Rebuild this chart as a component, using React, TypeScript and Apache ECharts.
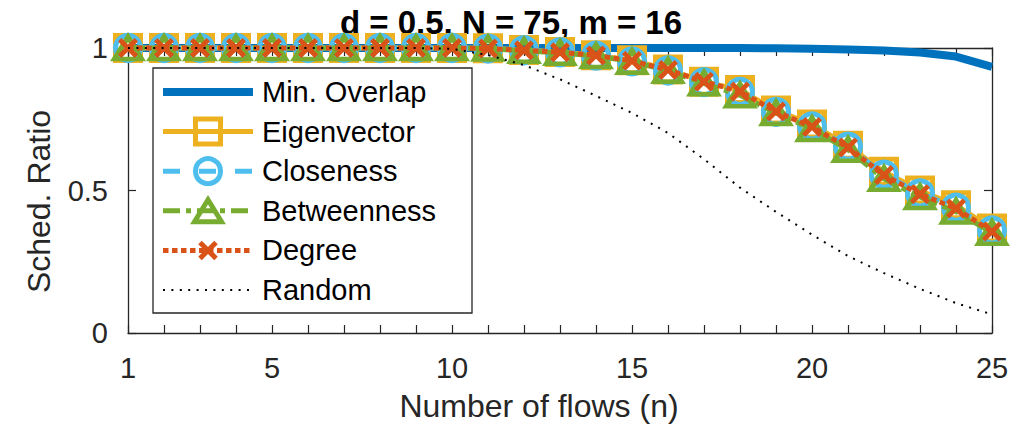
import { useEffect, useRef } from "react";
import * as echarts from "echarts";

const flows = [1, 2, 3, 4, 5, 6, 7, 8, 9, 10, 11, 12, 13, 14, 15, 16, 17, 18, 19, 20, 21, 22, 23, 24, 25];
const xTickLabels = [1, 5, 10, 15, 20, 25];
const titleText = "d = 0.5, N = 75, m = 16";
const xTitle = "Number of flows (n)";
const yTitle = "Sched. Ratio";
const seriesNames = ["Min. Overlap", "Eigenvector", "Closeness", "Betweenness", "Degree", "Random"];

const minOverlap = [1, 1, 1, 1, 1, 1, 1, 1, 1, 1, 1, 1, 1, 1, 1, 1, 1, 1, 0.999, 0.997, 0.995, 0.991, 0.984, 0.97, 0.934];
const eigenvector = [1, 1, 1, 1, 1, 1, 1, 1, 1, 1, 0.999, 0.993, 0.986, 0.975, 0.957, 0.925, 0.882, 0.853, 0.781, 0.732, 0.657, 0.566, 0.5, 0.448, 0.367];
const closeness = [1, 1, 1, 1, 1, 1, 1, 1, 1, 1, 0.998, 0.992, 0.985, 0.973, 0.953, 0.921, 0.88, 0.846, 0.776, 0.725, 0.654, 0.556, 0.49, 0.44, 0.36];
const betweenness = [1, 1, 1, 1, 1, 1, 1, 1, 1, 1, 0.998, 0.99, 0.983, 0.972, 0.952, 0.92, 0.876, 0.834, 0.772, 0.716, 0.643, 0.541, 0.477, 0.426, 0.352];
const degree = [1, 1, 1, 1, 1, 1, 1, 1, 1, 1, 0.998, 0.992, 0.985, 0.974, 0.955, 0.923, 0.882, 0.847, 0.777, 0.723, 0.651, 0.554, 0.487, 0.437, 0.356];
const random = [1, 1, 1, 1, 1, 1, 1, 1, 1, 0.997, 0.975, 0.94, 0.89, 0.832, 0.772, 0.702, 0.61, 0.51, 0.425, 0.345, 0.27, 0.21, 0.155, 0.105, 0.065];

const FONT = "'Liberation Sans', Arial, Helvetica, sans-serif";
const AX = "#262626";
const C_BLUE = "#0072BD";
const C_ORANGE = "#EDB120";
const C_CYAN = "#4DBEEE";
const C_GREEN = "#77AC30";
const C_RED = "#D95319";
const X_PATH = "path://M0,1.7L1.7,0L5,3.3L8.3,0L10,1.7L6.7,5L10,8.3L8.3,10L5,6.7L1.7,10L0,8.3L3.3,5Z";

const pairs = (vals: number[]) => flows.map((n, i) => [n, vals[i]]);

export default function App() {
  const ref = useRef<HTMLDivElement>(null);
  useEffect(() => {
    const chart = echarts.init(ref.current!, null, { renderer: "svg" });
    const axisLine = { show: true, onZero: false, lineStyle: { color: AX, width: 1.3 } };
    const axisTick = { show: true, inside: true, length: 8, lineStyle: { color: AX, width: 1.2 } };

    const lineStyles: any[] = [
      { color: C_BLUE, width: 8, type: "solid" },
      { color: C_ORANGE, width: 5, type: "solid" },
      { color: C_CYAN, width: 5, type: [17, 19] },
      { color: C_GREEN, width: 5, type: [17, 6, 5, 6] },
      { color: C_RED, width: 5, type: [5.5, 3.5] },
      { color: "#000", width: 2, type: [2, 6.4] },
    ];
    const dataSets = [minOverlap, eigenvector, closeness, betweenness, degree, random];
    const symbols: any[] = ["none", "rect", "circle", "triangle", X_PATH, "none"];
    const symbolSizes: any[] = [0, 25, 25, [27, 22], 20, 0];
    const itemStyles: any[] = [
      { color: C_BLUE },
      { color: "rgba(0,0,0,0)", borderColor: C_ORANGE, borderWidth: 5 },
      { color: "rgba(0,0,0,0)", borderColor: C_CYAN, borderWidth: 5 },
      { color: "rgba(0,0,0,0)", borderColor: C_GREEN, borderWidth: 5 },
      { color: C_RED, borderWidth: 0 },
      { color: "#000" },
    ];

    const series = seriesNames.map((name, i) => ({
      name,
      type: "line",
      data: pairs(dataSets[i]),
      symbol: symbols[i],
      symbolSize: symbolSizes[i],
      showSymbol: symbols[i] !== "none",
      showAllSymbol: true,
      itemStyle: itemStyles[i],
      lineStyle: lineStyles[i],
      clip: false,
      silent: true,
      z: 2 + i,
      emphasis: { disabled: true },
    }));

    // legend graphic
    const legendEls: any[] = [
      {
        type: "rect",
        z: 50,
        shape: { x: 153, y: 68, width: 319, height: 245 },
        style: { fill: "#fff", stroke: AX, lineWidth: 1.3 },
      },
    ];
    seriesNames.forEach((name, i) => {
      const y = 92 + i * 39.6;
      const ls = lineStyles[i];
      legendEls.push({
        type: "line",
        z: 51,
        shape: { x1: 163, y1: y, x2: 253, y2: y },
        style: { stroke: ls.color, lineWidth: ls.width, lineDash: ls.type === "solid" ? null : ls.type },
      });
      const cx = 208;
      if (i === 1) {
        legendEls.push({ type: "rect", z: 52, shape: { x: cx - 12.5, y: y - 12.5, width: 25, height: 25 }, style: { fill: "none", stroke: C_ORANGE, lineWidth: 5 } });
      } else if (i === 2) {
        legendEls.push({ type: "circle", z: 52, shape: { cx, cy: y, r: 12.5 }, style: { fill: "none", stroke: C_CYAN, lineWidth: 5 } });
      } else if (i === 3) {
        legendEls.push({ type: "polygon", z: 52, shape: { points: [[cx, y - 11], [cx + 13.5, y + 11], [cx - 13.5, y + 11]] }, style: { fill: "none", stroke: C_GREEN, lineWidth: 5 } });
      } else if (i === 4) {
        legendEls.push({ type: "line", z: 52, shape: { x1: cx - 8, y1: y - 8, x2: cx + 8, y2: y + 8 }, style: { stroke: C_RED, lineWidth: 5 } });
        legendEls.push({ type: "line", z: 52, shape: { x1: cx - 8, y1: y + 8, x2: cx + 8, y2: y - 8 }, style: { stroke: C_RED, lineWidth: 5 } });
      }
      legendEls.push({
        type: "text",
        z: 52,
        x: 262,
        y,
        style: { text: name, fontSize: 29, fontFamily: FONT, fill: "#000", align: "left", verticalAlign: "middle", textAlign: "left", textVerticalAlign: "middle" },
      });
    });

    const option: any = {
      animation: false,
      backgroundColor: "#fff",
      grid: { left: 128, right: 38, top: 48, bottom: 94, containLabel: false },
      xAxis: [
        {
          type: "value",
          min: 1,
          max: 25,
          interval: 1,
          position: "bottom",
          axisLine,
          axisTick,
          splitLine: { show: false },
          axisLabel: {
            show: true,
            fontSize: 29,
            fontFamily: FONT,
            color: AX,
            margin: 20,
            formatter: (v: number) => (xTickLabels.includes(v) ? String(v) : ""),
          },
        },
        {
          type: "value",
          min: 1,
          max: 25,
          interval: 1,
          position: "top",
          axisLine,
          axisTick,
          splitLine: { show: false },
          axisLabel: { show: false },
        },
      ],
      yAxis: [
        {
          type: "value",
          min: 0,
          max: 1,
          interval: 0.5,
          position: "left",
          axisLine,
          axisTick,
          splitLine: { show: false },
          axisLabel: { show: true, fontSize: 29, fontFamily: FONT, color: AX, margin: 20 },
        },
        {
          type: "value",
          min: 0,
          max: 1,
          interval: 0.5,
          position: "right",
          axisLine,
          axisTick,
          splitLine: { show: false },
          axisLabel: { show: false },
        },
      ],
      graphic: [
        {
          type: "text",
          z: 0,
          x: 511,
          y: 22.5,
          style: { text: titleText, fontSize: 33, fontWeight: "bold", fontFamily: FONT, fill: "#000", align: "center", verticalAlign: "middle", textAlign: "center", textVerticalAlign: "middle" },
        },
        {
          type: "text",
          z: 0,
          x: 539,
          y: 406,
          style: { text: xTitle, fontSize: 32, fontFamily: FONT, fill: AX, align: "center", verticalAlign: "middle", textAlign: "center", textVerticalAlign: "middle" },
        },
        {
          type: "text",
          z: 0,
          x: 38.5,
          y: 201.5,
          rotation: Math.PI / 2,
          style: { text: yTitle, fontSize: 32, fontFamily: FONT, fill: AX, align: "center", verticalAlign: "middle", textAlign: "center", textVerticalAlign: "middle" },
        },
        ...legendEls,
      ],
      series,
    };
    chart.setOption(option);
    return () => chart.dispose();
  }, []);
  return (
    <div
      ref={ref}
      style={{ position: "fixed", left: 0, top: 0, width: 1030, height: 427, background: "#fff" }}
    />
  );
}
